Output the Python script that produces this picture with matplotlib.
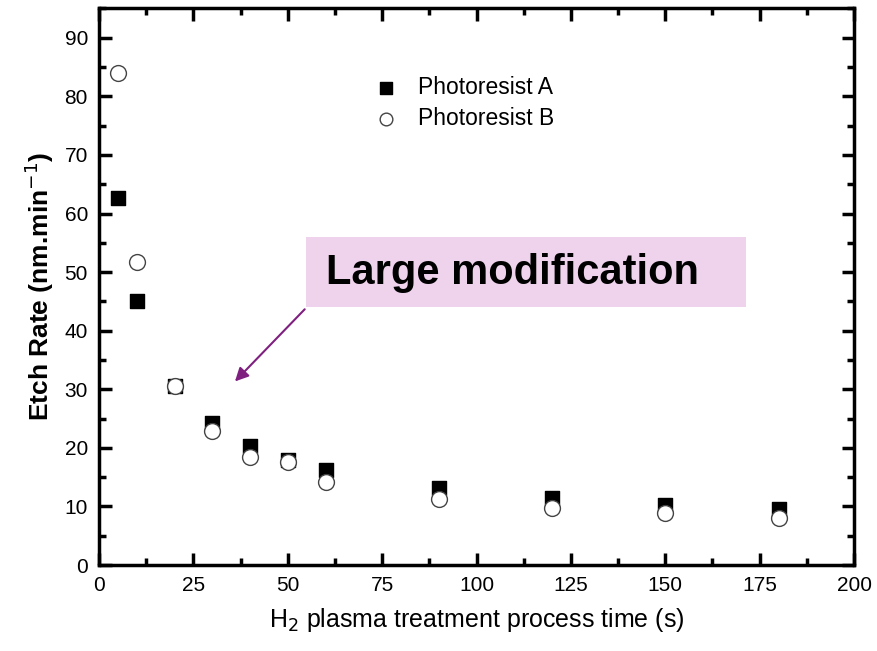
import matplotlib.pyplot as plt
from matplotlib.patches import Rectangle
from matplotlib.ticker import MultipleLocator

plt.rcParams['font.family'] = ['Liberation Sans', 'DejaVu Sans']

time_a = [5, 10, 20, 30, 40, 50, 60, 90, 120, 150, 180]
rate_a = [62.7, 45.0, 30.5, 24.3, 20.3, 18.0, 16.3, 13.2, 11.4, 10.3, 9.5]
time_b = [5, 10, 20, 30, 40, 50, 60, 90, 120, 150, 180]
rate_b = [84.0, 51.7, 30.6, 22.8, 18.5, 17.6, 14.2, 11.3, 9.8, 8.9, 8.0]

fig = plt.figure(figsize=(8.77, 6.51), dpi=100)
ax = fig.add_axes([0.1129, 0.132, 0.8609, 0.855])

ax.scatter(time_a, rate_a, marker='s', s=110, c='black', label='Photoresist A', zorder=3)
ax.scatter(time_b, rate_b, marker='o', s=130, facecolors='white', edgecolors='#444444',
           linewidths=1.0, label='Photoresist B', zorder=4)

ax.set_xlim(0, 200)
ax.set_ylim(0, 95)
ax.xaxis.set_major_locator(MultipleLocator(25))
ax.xaxis.set_minor_locator(MultipleLocator(12.5))
ax.yaxis.set_major_locator(MultipleLocator(10))
ax.yaxis.set_minor_locator(MultipleLocator(5))
ax.tick_params(which='both', direction='in', top=True, right=True, width=2.5, labelsize=15)
ax.tick_params(which='major', length=9, pad=8)
ax.tick_params(which='minor', length=5)
for s in ax.spines.values():
    s.set_linewidth(2.5)

ax.set_xlabel('H$_2$ plasma treatment process time (s)', fontsize=18, labelpad=8)
ax.set_ylabel('Etch Rate (nm.min$^{-1}$)', fontsize=19, fontweight='bold', labelpad=6)

leg = ax.legend(loc='upper left', bbox_to_anchor=(0.322, 0.915), frameon=False, fontsize=16.5,
                handletextpad=0.4, labelspacing=0.35, markerscale=0.8)

# pink label box with arrow
ax.add_patch(Rectangle((54.8, 44), 116.6, 12, facecolor='#efd3ec', edgecolor='none', zorder=1))
ax.text(60.1, 49.9, 'Large modification', fontsize=30, fontweight='bold', va='center', zorder=2)
ax.annotate('', xy=(35.5, 31), xytext=(55, 44),
            arrowprops=dict(arrowstyle='-|>', color='#7f1f7f', lw=1.5, mutation_scale=20))

fig.savefig('out.png', dpi=100)
